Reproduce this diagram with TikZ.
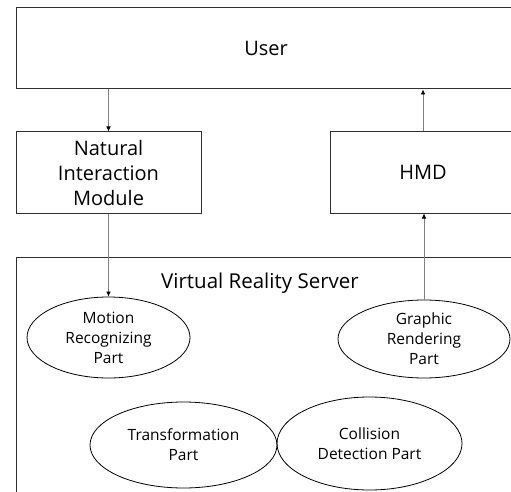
\documentclass[tikz,border=0pt]{standalone}
\usepackage{fontspec}
\setmainfont{Open Sans}
\usetikzlibrary{shapes.geometric,arrows.meta}
\definecolor{boxline}{HTML}{303030}
\definecolor{arrline}{HTML}{808080}
\tikzset{
  boxnode/.style={draw=boxline, line width=1pt, rectangle, inner sep=0pt, align=center, font=\fontsize{20}{25}\selectfont},
  partnode/.style={draw=black, line width=0.8pt, ellipse, inner sep=0pt, align=center, font=\fontsize{15.5}{20}\selectfont},
  arr/.style={draw=arrline, line width=0.6pt, -{Latex[length=5pt,width=4.5pt,black]}},
}
\begin{document}
\begin{tikzpicture}[x=1pt,y=-1pt]
\useasboundingbox (0,0) rectangle (511,492);
\clip (0,0) rectangle (511,492);
\fill[white] (0,0) rectangle (511,492);
\node[boxnode, minimum width=500pt, minimum height=81pt] (user) at (266,48.5) {User};
\node[boxnode, minimum width=185pt, minimum height=81pt] (nim) at (108.5,172.5) {Natural\\Interaction\\Module};
\node[boxnode, minimum width=186pt, minimum height=81pt] (hmd) at (423,172.5) {HMD};
\node[boxnode, minimum width=500pt, minimum height=280pt, anchor=north west] (vrs) at (16,257) {};
\node[font=\fontsize{20.5}{24}\selectfont] (vrslabel) at (260,283) {Virtual Reality Server};
\node[partnode, minimum width=163pt, minimum height=81pt] (motion) at (108.5,337.5) {Motion\\Recognizing\\Part};
\node[partnode, minimum width=172pt, minimum height=78pt] (graphic) at (424,339) {Graphic\\Rendering\\Part};
\node[partnode, minimum width=187pt, minimum height=86pt] (trans) at (183.5,445) {Transformation\\Part};
\node[partnode, minimum width=185pt, minimum height=93pt] (coll) at (369.5,443.5) {Collision\\Detection Part};
\draw[arr] (user.south -| nim.north) -- (nim.north);
\draw[arr] (hmd.north) -- (user.south -| hmd.north);
\draw[arr] (nim.south) -- (motion.north);
\draw[arr] (graphic.north) -- (graphic.north |- hmd.south);
\end{tikzpicture}
\end{document}
